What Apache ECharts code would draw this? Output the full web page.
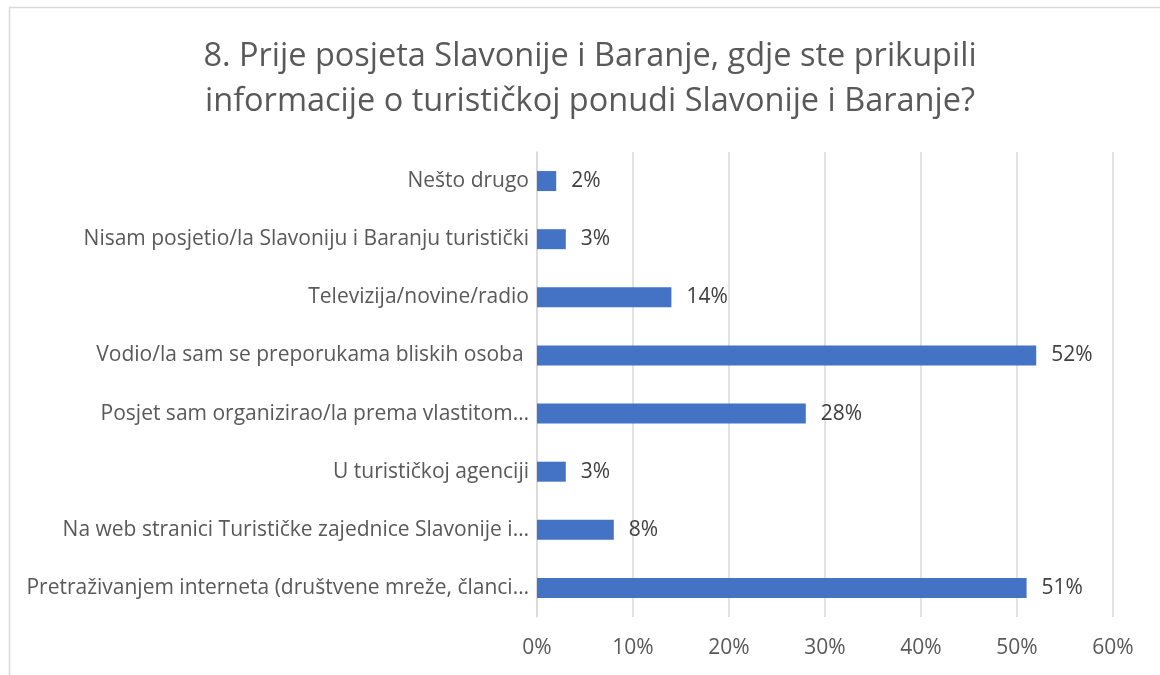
<!DOCTYPE html>
<html>
<head>
<meta charset="utf-8">
<script src="https://cdn.jsdelivr.net/npm/echarts@6/dist/echarts.min.js"></script>
<style>
  html, body { margin: 0; padding: 0; background: #fff; }
  #chart { width: 1160px; height: 675px; }
</style>
</head>
<body>
<div id="chart"></div>
<script>
// categories listed top to bottom, as in the picture
const categories = [
  'Nešto drugo',
  'Nisam posjetio/la Slavoniju i Baranju turistički',
  'Televizija/novine/radio',
  'Vodio/la sam se preporukama bliskih osoba ',
  'Posjet sam organizirao/la prema vlastitom…',
  'U turističkoj agenciji',
  'Na web stranici Turističke zajednice Slavonije i…',
  'Pretraživanjem interneta (društvene mreže, članci…'
]
const shares = [0.02, 0.03, 0.14, 0.52, 0.28, 0.03, 0.08, 0.51]
const titleLines = [
  '8. Prije posjeta Slavonije i Baranje, gdje ste prikupili',
  'informacije o turističkoj ponudi Slavonije i Baranje?'
]

const font = '"Open Sans", sans-serif'
const pct = v => Math.round(v * 100) + '%'

const chart = echarts.init(document.getElementById('chart'))
chart.setOption({
  animation: false,
  textStyle: { fontFamily: font },
  graphic: [{
    type: 'rect',
    silent: true,
    shape: { x: 9.5, y: 7.5, width: 1300, height: 800 },
    style: { fill: 'none', stroke: '#d9d9d9', lineWidth: 1.5 }
  }],
  title: {
    text: titleLines.join('\n'),
    left: 585,
    top: 29,
    textAlign: 'center',
    textStyle: {
      fontFamily: font,
      fontSize: 32.5,
      fontWeight: 'normal',
      color: '#595959',
      lineHeight: 45,
      align: 'center'
    }
  },
  grid: {
    left: 537,
    right: 47,
    top: 152,
    bottom: 58,
    containLabel: false
  },
  xAxis: {
    type: 'value',
    min: 0,
    max: 0.6,
    interval: 0.1,
    axisLine: { show: false },
    axisTick: { show: false },
    splitLine: { lineStyle: { color: '#d9d9d9', width: 1.5 } },
    axisLabel: {
      formatter: pct,
      color: '#595959',
      fontSize: 21,
      margin: 21
    }
  },
  yAxis: {
    type: 'category',
    inverse: true,
    data: categories,
    axisLine: { show: true, lineStyle: { color: '#d9d9d9', width: 1.5 } },
    axisTick: { show: false },
    axisLabel: {
      color: '#595959',
      fontSize: 21,
      margin: 8
    }
  },
  series: [{
    type: 'bar',
    data: shares,
    barWidth: 20,
    itemStyle: { color: '#4472c4' },
    label: {
      show: true,
      position: 'right',
      distance: 15,
      formatter: p => pct(p.value),
      color: '#404040',
      fontSize: 21
    }
  }]
})
</script>
</body>
</html>
